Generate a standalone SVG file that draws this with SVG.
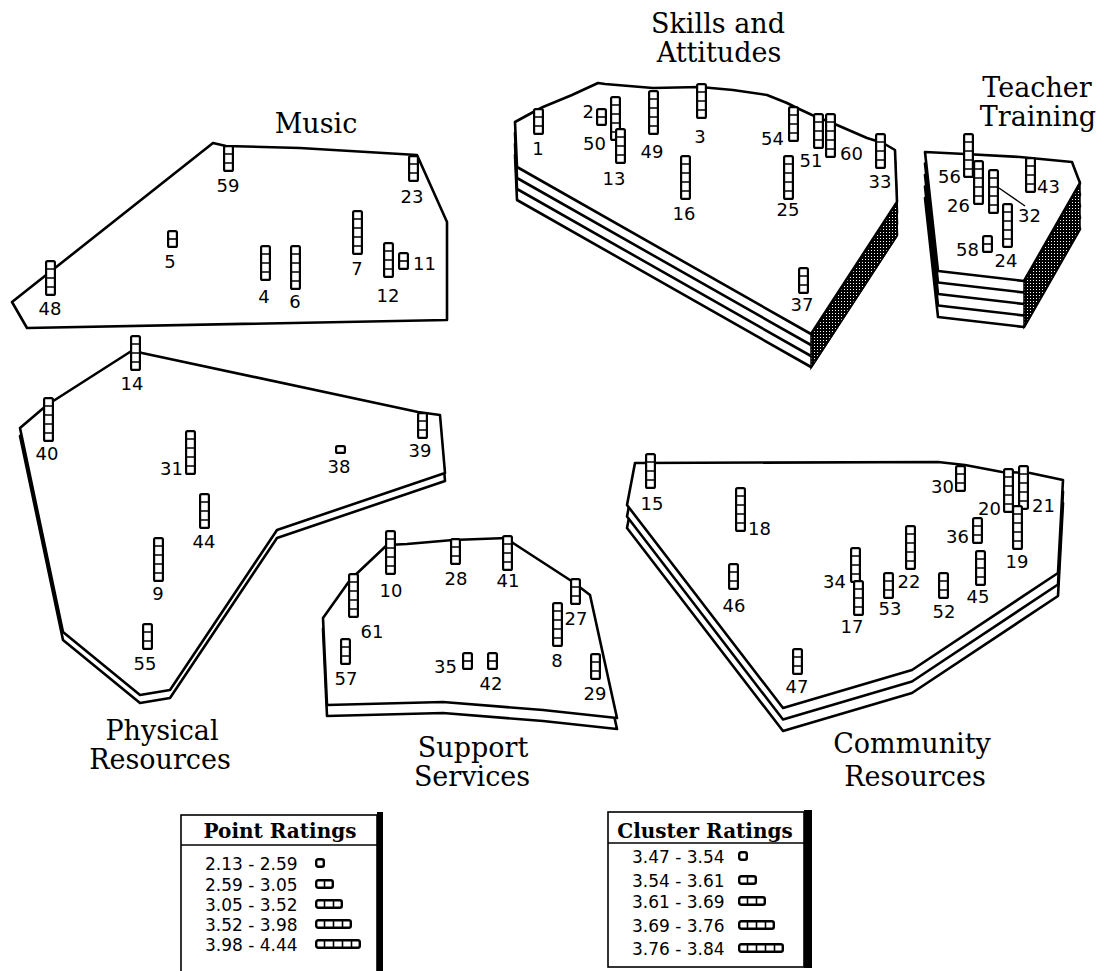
<svg xmlns="http://www.w3.org/2000/svg" xmlns:xlink="http://www.w3.org/1999/xlink" width="1101" height="971" viewBox="0 0 1101 971">
<style>
  .slab{fill:#fff;stroke:#000;stroke-width:2.6;stroke-linejoin:round}
  .side{fill:url(#dots);stroke:#000;stroke-width:1.5}
  .title{font-family:"DejaVu Serif","Liberation Serif",serif;font-size:27px;fill:#000;text-anchor:middle}
  .num{font-family:"DejaVu Sans","Liberation Sans",sans-serif;font-size:18px;fill:#000}
  .lg{font-family:"DejaVu Sans","Liberation Sans",sans-serif;font-size:17px;fill:#000}
  .m{text-anchor:middle}
  .e{text-anchor:end}
  .box{fill:#fff;stroke:#000;stroke-width:1.6}
  .head{font-family:"DejaVu Serif","Liberation Serif",serif;font-weight:bold;font-size:20px;fill:#000;text-anchor:middle}
  .lead{stroke:#000;stroke-width:1.4;fill:none}
</style>
<defs>
  <pattern id="dots" width="3" height="3" patternUnits="userSpaceOnUse">
    <rect width="3" height="3" fill="#000"/>
    <rect x="1" y="1" width="1" height="1" fill="#fff"/>
  </pattern>
  <!-- vertical point stacks, 1 to 5 cells -->
  <g id="s1" fill="#fff" stroke="#000" stroke-width="2.2"><rect x="1.1" y="1.1" width="8.8" height="6.8" rx="1.5"/></g>
  <g id="s2" fill="#fff" stroke="#000" stroke-width="2.2"><rect x="1.1" y="1.1" width="8.8" height="15.8" rx="1.5"/><path d="M1 9h9" stroke-width="1.6"/></g>
  <g id="s3" fill="#fff" stroke="#000" stroke-width="2.2"><rect x="1.1" y="1.1" width="8.8" height="24.8" rx="1.5"/><path d="M1 9h9M1 18h9" stroke-width="1.6"/></g>
  <g id="s4" fill="#fff" stroke="#000" stroke-width="2.2"><rect x="1.1" y="1.1" width="8.8" height="33.8" rx="1.5"/><path d="M1 9h9M1 18h9M1 27h9" stroke-width="1.6"/></g>
  <g id="s5" fill="#fff" stroke="#000" stroke-width="2.2"><rect x="1.1" y="1.1" width="8.8" height="42.8" rx="1.5"/><path d="M1 9h9M1 18h9M1 27h9M1 36h9" stroke-width="1.6"/></g>
  <!-- horizontal legend strips -->
  <g id="h1" fill="#fff" stroke="#000" stroke-width="2.4"><rect x="1.2" y="1.2" width="7.6" height="7.6" rx="2"/></g>
  <g id="h2" fill="#fff" stroke="#000" stroke-width="2.4"><rect x="1.2" y="1.2" width="16.6" height="7.6" rx="2"/><path d="M9.5 1v8" stroke-width="1.6"/></g>
  <g id="h3" fill="#fff" stroke="#000" stroke-width="2.4"><rect x="1.2" y="1.2" width="25.6" height="7.6" rx="2"/><path d="M9.5 1v8M18.5 1v8" stroke-width="1.6"/></g>
  <g id="h4" fill="#fff" stroke="#000" stroke-width="2.4"><rect x="1.2" y="1.2" width="34.6" height="7.6" rx="2"/><path d="M9.5 1v8M18.5 1v8M27.5 1v8" stroke-width="1.6"/></g>
  <g id="h5" fill="#fff" stroke="#000" stroke-width="2.4"><rect x="1.2" y="1.2" width="43.6" height="7.6" rx="2"/><path d="M9.5 1v8M18.5 1v8M27.5 1v8M36.5 1v8" stroke-width="1.6"/></g>
  <!-- cluster outlines -->
  <polygon id="pMusic" points="12,302 213,143 226,146 300,148 417,155 447,222 447,320 27,328"/>
  <polygon id="pSkills" points="515,122 537,110 543,107 572,95 598,83 605,84 653,88 700,87 733,90 767,95 787,103 797,108 812,115 837,125 867,138 883,143 895,150 897,202 811,334 517,167"/>
  <polygon id="pTeacher" points="925,152 965,154 1020,157 1072,162 1075,170 1080,183 1024,281 938,271"/>
  <polygon id="pPhysical" points="20,428 47,405 133,350 142,353 418,412 440,415 445,473 277,530 170,690 140,695 63,632"/>
  <polygon id="pSupport" points="323,618 350,580 387,545 407,544 453,540 507,538 513,543 573,582 590,595 617,718 543,710 443,702 327,705"/>
  <polygon id="pCommunity" points="635,463 938,462 965,465 1002,472 1030,473 1063,480 1058,573 912,670 783,708 627,505"/>
</defs>

<!-- Music -->
<g id="music">
  <use href="#pMusic" class="slab"/>
  <use href="#s3" x="223" y="145"/>
  <use href="#s3" x="408" y="155"/>
  <use href="#s2" x="167" y="230"/>
  <use href="#s4" x="45" y="260"/>
  <use href="#s4" x="260" y="245"/>
  <use href="#s5" x="290" y="245"/>
  <use href="#s5" x="352" y="210"/>
  <use href="#s4" x="383" y="242"/>
  <use href="#s2" x="398" y="252"/>
  <text class="title" x="316" y="133">Music</text>
  <g class="num">
    <text class="m" x="228" y="192">59</text>
    <text class="m" x="412" y="203">23</text>
    <text class="m" x="170" y="268">5</text>
    <text class="m" x="50" y="315">48</text>
    <text class="m" x="264" y="303">4</text>
    <text class="m" x="295" y="308">6</text>
    <text class="m" x="357" y="275">7</text>
    <text class="m" x="388" y="302">12</text>
    <text x="413" y="270">11</text>
  </g>
</g>

<!-- Skills and Attitudes -->
<g id="skills">
  <use href="#pSkills" class="slab" y="33"/>
  <use href="#pSkills" class="slab" y="22"/>
  <use href="#pSkills" class="slab" y="11"/>
  <polygon class="side" points="897,202 811,334 811,368 897,236"/>
  <use href="#pSkills" class="slab"/>
  <use href="#s3" x="533" y="108"/>
  <use href="#s2" x="596" y="108"/>
  <use href="#s5" x="610" y="96"/>
  <use href="#s4" x="615" y="128"/>
  <use href="#s5" x="648" y="90"/>
  <use href="#s4" x="696" y="83"/>
  <use href="#s5" x="680" y="155"/>
  <use href="#s4" x="788" y="106"/>
  <use href="#s4" x="813" y="113"/>
  <use href="#s5" x="825" y="113"/>
  <use href="#s4" x="875" y="133"/>
  <use href="#s5" x="783" y="155"/>
  <use href="#s3" x="798" y="267"/>
  <text class="title" x="718" y="33">Skills and</text>
  <text class="title" x="719" y="62">Attitudes</text>
  <g class="num">
    <text class="m" x="538" y="155">1</text>
    <text class="e" x="594" y="118">2</text>
    <text class="e" x="606" y="150">50</text>
    <text class="m" x="614" y="185">13</text>
    <text class="m" x="652" y="158">49</text>
    <text class="m" x="700" y="143">3</text>
    <text class="m" x="684" y="220">16</text>
    <text class="e" x="784" y="145">54</text>
    <text class="m" x="811" y="167">51</text>
    <text x="840" y="160">60</text>
    <text class="m" x="880" y="188">33</text>
    <text class="m" x="788" y="216">25</text>
    <text class="m" x="802" y="311">37</text>
  </g>
</g>

<!-- Teacher Training -->
<g id="teacher">
  <use href="#pTeacher" class="slab" y="46"/>
  <use href="#pTeacher" class="slab" y="34.5"/>
  <use href="#pTeacher" class="slab" y="23"/>
  <use href="#pTeacher" class="slab" y="11.5"/>
  <polygon class="side" points="1080,183 1024,281 1024,327 1080,229"/>
  <use href="#pTeacher" class="slab"/>
  <use href="#s5" x="963" y="133"/>
  <use href="#s5" x="973" y="160"/>
  <use href="#s5" x="988" y="169"/>
  <use href="#s5" x="1002" y="203"/>
  <use href="#s4" x="1025" y="157"/>
  <use href="#s2" x="982" y="235"/>
  <text class="title" x="1037" y="97">Teacher</text>
  <text class="title" x="1038" y="126">Training</text>
  <g class="num">
    <text class="e" x="961" y="183">56</text>
    <text class="e" x="970" y="212">26</text>
    <text x="1018" y="222">32</text>
    <text class="m" x="1006" y="267">24</text>
    <text x="1037" y="193">43</text>
    <text class="e" x="979" y="256">58</text>
  </g>
</g>

<!-- Physical Resources -->
<g id="physical">
  <use href="#pPhysical" class="slab" y="8"/>
  <use href="#pPhysical" class="slab"/>
  <use href="#s4" x="130" y="335"/>
  <use href="#s5" x="43" y="397"/>
  <use href="#s5" x="185" y="430"/>
  <use href="#s1" x="335" y="445"/>
  <use href="#s3" x="417" y="412"/>
  <use href="#s4" x="199" y="493"/>
  <use href="#s5" x="153" y="537"/>
  <use href="#s3" x="142" y="623"/>
  <text class="title" x="162" y="740">Physical</text>
  <text class="title" x="160" y="769">Resources</text>
  <g class="num">
    <text class="m" x="132" y="390">14</text>
    <text class="m" x="47" y="460">40</text>
    <text class="e" x="183" y="475">31</text>
    <text class="m" x="339" y="473">38</text>
    <text class="m" x="420" y="457">39</text>
    <text class="m" x="204" y="548">44</text>
    <text class="m" x="158" y="600">9</text>
    <text class="m" x="145" y="670">55</text>
  </g>
</g>

<!-- Support Services -->
<g id="support">
  <use href="#pSupport" class="slab" y="11"/>
  <use href="#pSupport" class="slab"/>
  <use href="#s5" x="385" y="530"/>
  <use href="#s3" x="450" y="538"/>
  <use href="#s4" x="502" y="535"/>
  <use href="#s5" x="348" y="573"/>
  <use href="#s3" x="570" y="578"/>
  <use href="#s5" x="552" y="602"/>
  <use href="#s3" x="340" y="638"/>
  <use href="#s2" x="462" y="652"/>
  <use href="#s2" x="487" y="652"/>
  <use href="#s3" x="590" y="653"/>
  <text class="title" x="473" y="757">Support</text>
  <text class="title" x="472" y="786">Services</text>
  <g class="num">
    <text class="m" x="391" y="597">10</text>
    <text class="m" x="456" y="585">28</text>
    <text class="m" x="508" y="587">41</text>
    <text class="m" x="372" y="638">61</text>
    <text class="m" x="576" y="625">27</text>
    <text class="m" x="557" y="667">8</text>
    <text class="m" x="346" y="685">57</text>
    <text class="e" x="457" y="673">35</text>
    <text class="m" x="491" y="690">42</text>
    <text class="m" x="595" y="700">29</text>
  </g>
</g>

<!-- Community Resources -->
<g id="community">
  <use href="#pCommunity" class="slab" y="23"/>
  <use href="#pCommunity" class="slab" y="11.5"/>
  <use href="#pCommunity" class="slab"/>
  <use href="#s4" x="645" y="453"/>
  <use href="#s5" x="735" y="487"/>
  <use href="#s3" x="955" y="465"/>
  <use href="#s5" x="1003" y="468"/>
  <use href="#s5" x="1018" y="465"/>
  <use href="#s5" x="1012" y="505"/>
  <use href="#s3" x="972" y="517"/>
  <use href="#s5" x="905" y="525"/>
  <use href="#s4" x="850" y="547"/>
  <use href="#s4" x="853" y="580"/>
  <use href="#s3" x="883" y="572"/>
  <use href="#s3" x="938" y="572"/>
  <use href="#s4" x="975" y="550"/>
  <use href="#s3" x="728" y="563"/>
  <use href="#s3" x="792" y="648"/>
  <text class="title" x="912" y="753">Community</text>
  <text class="title" x="915" y="786">Resources</text>
  <g class="num">
    <text class="m" x="652" y="510">15</text>
    <text x="748" y="535">18</text>
    <text class="e" x="954" y="493">30</text>
    <text class="e" x="1001" y="515">20</text>
    <text x="1032" y="512">21</text>
    <text class="m" x="1017" y="568">19</text>
    <text class="e" x="969" y="543">36</text>
    <text class="m" x="909" y="588">22</text>
    <text class="e" x="846" y="588">34</text>
    <text class="m" x="852" y="633">17</text>
    <text class="m" x="890" y="615">53</text>
    <text class="m" x="944" y="618">52</text>
    <text class="m" x="978" y="603">45</text>
    <text class="m" x="734" y="612">46</text>
    <text class="m" x="797" y="693">47</text>
  </g>
</g>

<!-- label leader lines -->
<g id="connectors">
  <line class="lead" x1="999" y1="188" x2="1025" y2="206"/>
</g>

<!-- Point Ratings legend -->
<g id="legend-points">
  <rect x="377" y="812" width="6" height="165" fill="#000"/>
  <rect class="box" x="181" y="815" width="196" height="170"/>
  <line x1="181" y1="845" x2="377" y2="845" stroke="#000" stroke-width="1.6"/>
  <text class="head" x="280" y="838">Point Ratings</text>
  <g class="lg">
    <text x="205" y="870">2.13 - 2.59</text>
    <text x="205" y="891">2.59 - 3.05</text>
    <text x="205" y="911">3.05 - 3.52</text>
    <text x="205" y="931">3.52 - 3.98</text>
    <text x="205" y="951">3.98 - 4.44</text>
  </g>
  <use href="#h1" x="315" y="858"/>
  <use href="#h2" x="315" y="879"/>
  <use href="#h3" x="315" y="899"/>
  <use href="#h4" x="315" y="919"/>
  <use href="#h5" x="315" y="939"/>
</g>

<!-- Cluster Ratings legend -->
<g id="legend-clusters">
  <rect x="804" y="810" width="8" height="158" fill="#000"/>
  <rect class="box" x="608" y="812" width="196" height="155"/>
  <line x1="608" y1="843" x2="804" y2="843" stroke="#000" stroke-width="1.6"/>
  <text class="head" x="705" y="838">Cluster Ratings</text>
  <g class="lg">
    <text x="632" y="863">3.47 - 3.54</text>
    <text x="632" y="887">3.54 - 3.61</text>
    <text x="632" y="908">3.61 - 3.69</text>
    <text x="632" y="932">3.69 - 3.76</text>
    <text x="632" y="955">3.76 - 3.84</text>
  </g>
  <use href="#h1" x="738" y="851"/>
  <use href="#h2" x="738" y="875"/>
  <use href="#h3" x="738" y="896"/>
  <use href="#h4" x="738" y="920"/>
  <use href="#h5" x="738" y="943"/>
</g>
</svg>
